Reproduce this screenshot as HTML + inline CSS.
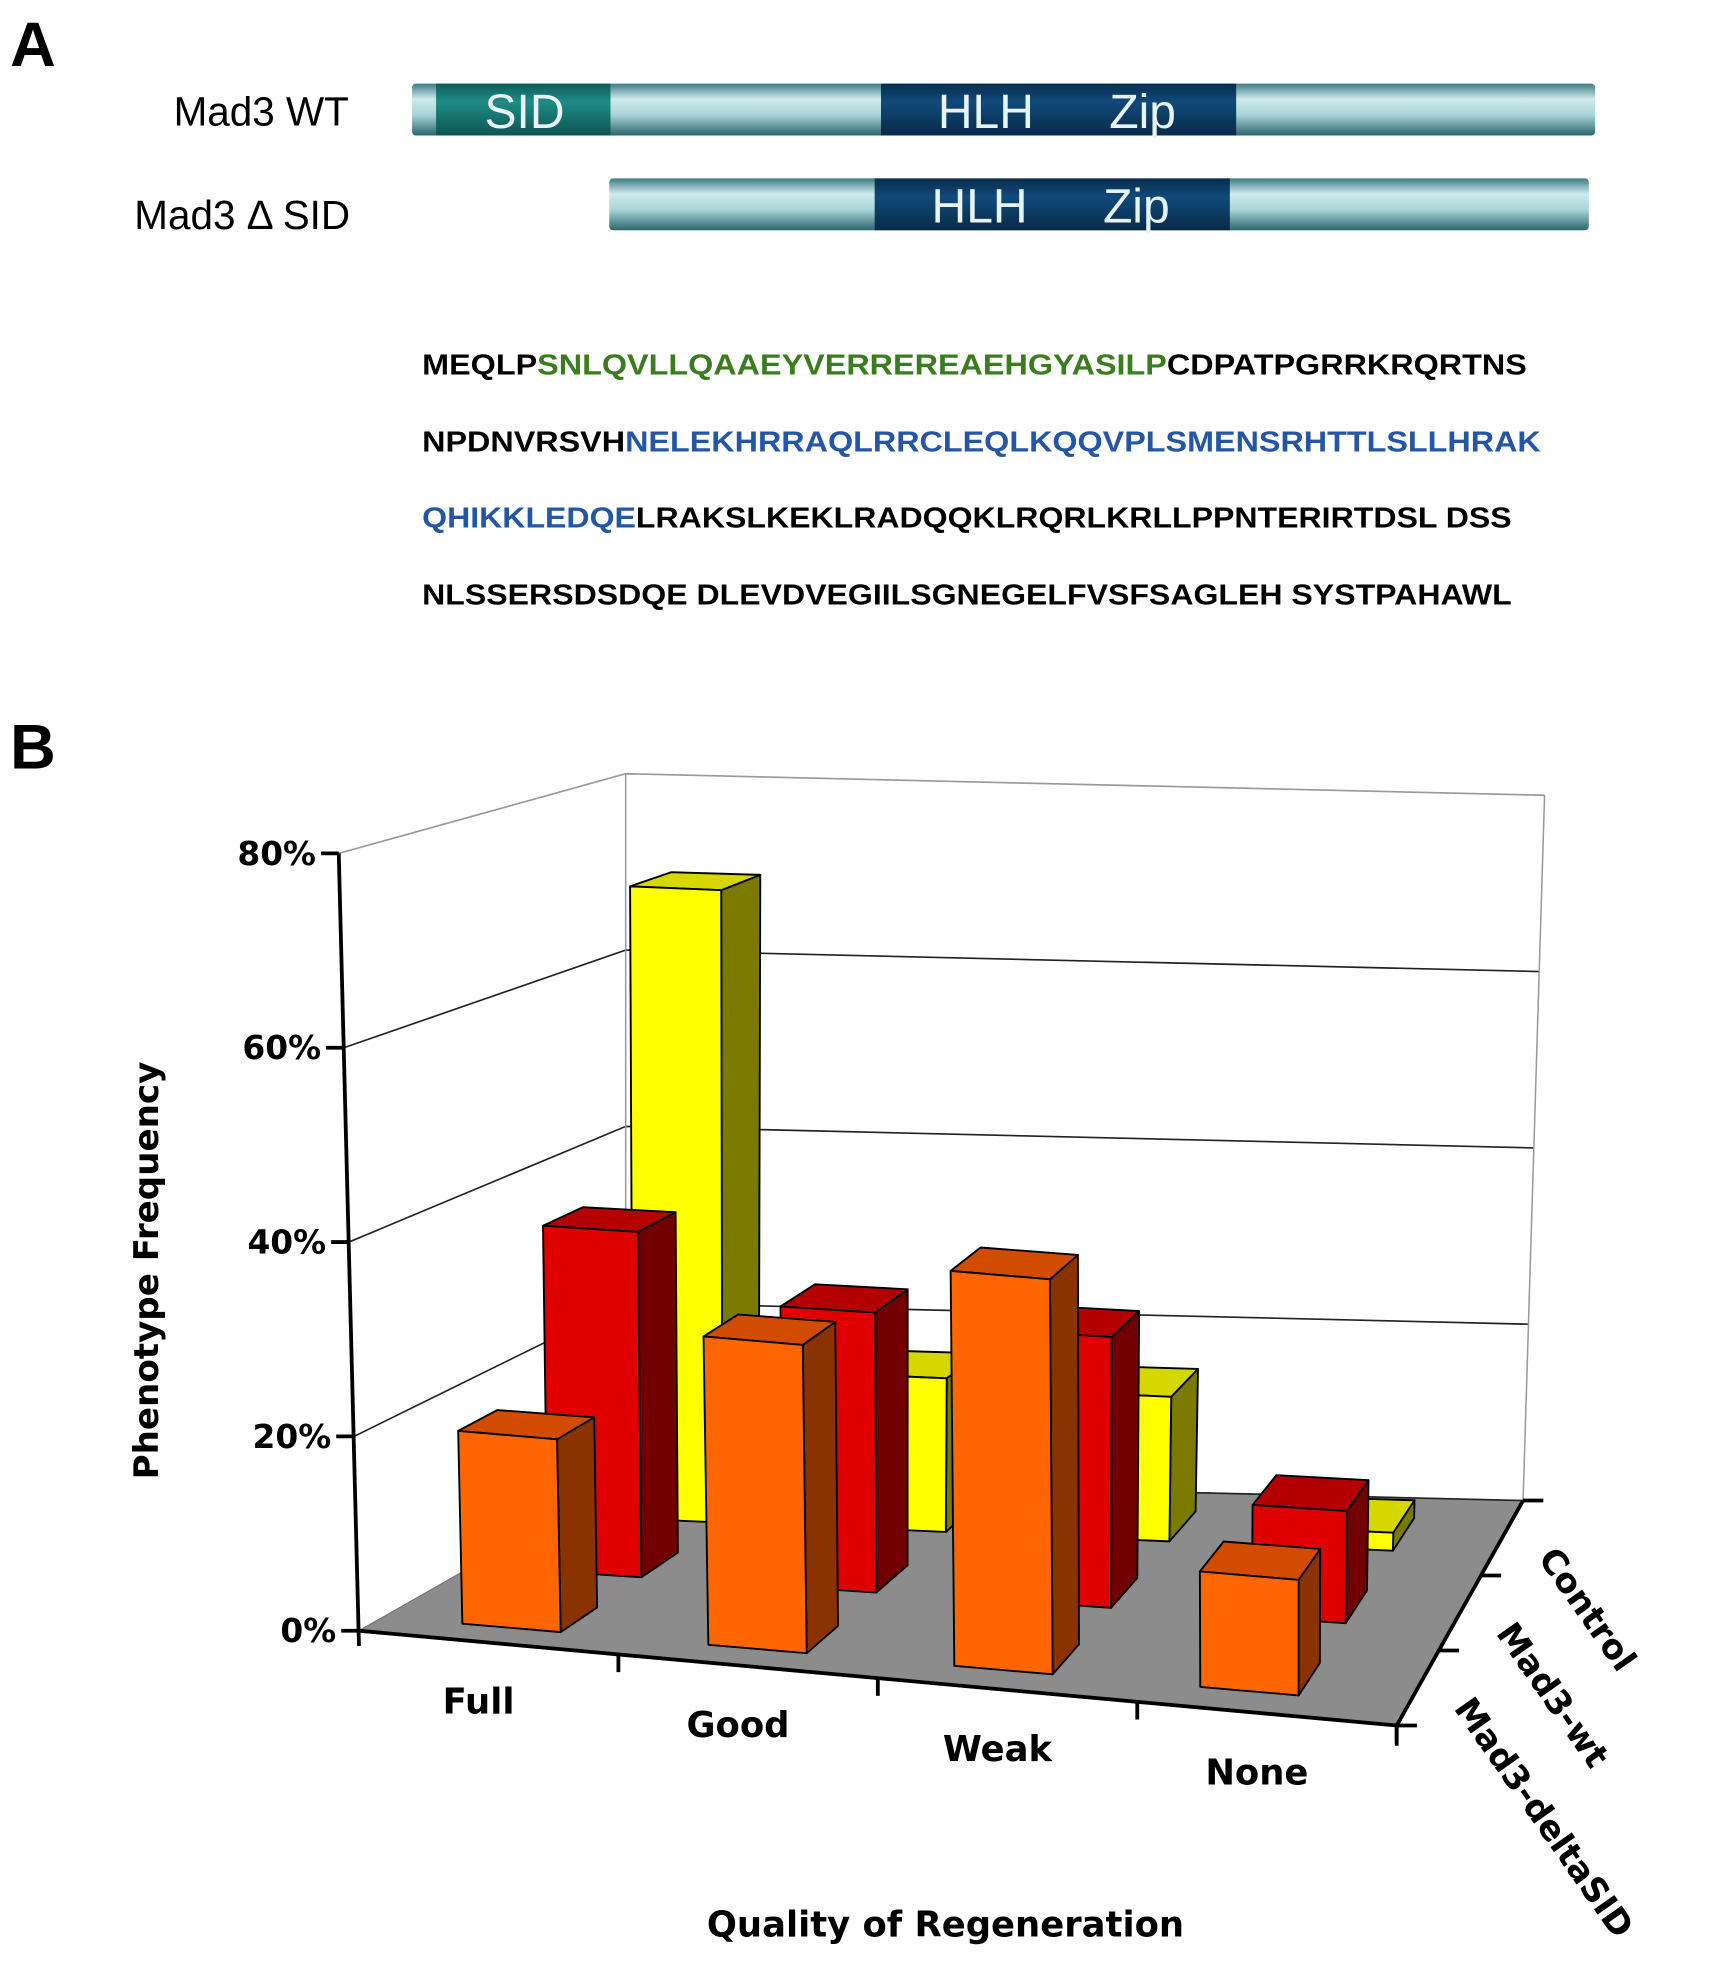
<!DOCTYPE html>
<html><head><meta charset="utf-8">
<style>
html,body{margin:0;padding:0;background:#fff;}
svg{display:block;}
</style></head>
<body>
<svg id="fig" width="1719" height="1976" viewBox="0 0 1360 1563" xmlns="http://www.w3.org/2000/svg">
<defs>
<linearGradient id="cyl" x1="0" y1="0" x2="0" y2="1">
<stop offset="0" stop-color="#3b7c82"/><stop offset="0.3" stop-color="#cfeaec"/><stop offset="0.6" stop-color="#a9d5d8"/><stop offset="1" stop-color="#2b666c"/>
</linearGradient>
<linearGradient id="sid" x1="0" y1="0" x2="0" y2="1">
<stop offset="0" stop-color="#0f5c58"/><stop offset="0.35" stop-color="#1f8c86"/><stop offset="1" stop-color="#0e5552"/>
</linearGradient>
<linearGradient id="hlh" x1="0" y1="0" x2="0" y2="1">
<stop offset="0" stop-color="#082c4c"/><stop offset="0.35" stop-color="#104a7a"/><stop offset="1" stop-color="#082a48"/>
</linearGradient>
</defs>

<text x="8" y="52" font-family="Liberation Sans, sans-serif" font-weight="bold" font-size="50">A</text>
<text x="276" y="99" text-anchor="end" font-family="Liberation Sans, sans-serif" font-size="32">Mad3 WT</text>
<text x="277" y="181" text-anchor="end" font-family="Liberation Sans, sans-serif" font-size="32">Mad3 Δ SID</text>

<g>
<rect x="326" y="66" width="936" height="41" fill="url(#cyl)" rx="3"/>
<rect x="345" y="66" width="138" height="41" fill="url(#sid)"/>
<rect x="697" y="66" width="281" height="41" fill="url(#hlh)"/>
<text x="415" y="101" text-anchor="middle" fill="#e8f4f4" font-family="Liberation Sans, sans-serif" font-size="38">SID</text>
<text x="780" y="101" text-anchor="middle" fill="#e8f4f4" font-family="Liberation Sans, sans-serif" font-size="38">HLH</text>
<text x="904" y="101" text-anchor="middle" fill="#e8f4f4" font-family="Liberation Sans, sans-serif" font-size="38">Zip</text>
</g>
<g>
<rect x="482" y="141" width="775" height="41" fill="url(#cyl)" rx="3"/>
<rect x="692" y="141" width="281" height="41" fill="url(#hlh)"/>
<text x="775" y="176" text-anchor="middle" fill="#e8f4f4" font-family="Liberation Sans, sans-serif" font-size="38">HLH</text>
<text x="899" y="176" text-anchor="middle" fill="#e8f4f4" font-family="Liberation Sans, sans-serif" font-size="38">Zip</text>
</g>

<g font-family="Liberation Sans, sans-serif" font-weight="bold" font-size="23">
<text x="334" y="296" textLength="874" lengthAdjust="spacingAndGlyphs">MEQLP<tspan fill="#3a7d1e">SNLQVLLQAAEYVERREREAEHGYASILP</tspan>CDPATPGRRKRQRTNS</text>
<text x="334" y="357" textLength="885" lengthAdjust="spacingAndGlyphs">NPDNVRSVH<tspan fill="#2456a8">NELEKHRRAQLRRCLEQLKQQVPLSMENSRHTTLSLLHRAK</tspan></text>
<text x="334" y="417" textLength="862" lengthAdjust="spacingAndGlyphs"><tspan fill="#2456a8">QHIKKLEDQE</tspan>LRAKSLKEKLRADQQKLRQRLKRLLPPNTERIRTDSL DSS</text>
<text x="334" y="478" textLength="862" lengthAdjust="spacingAndGlyphs">NLSSERSDSDQE DLEVDVEGIILSGNEGELFVSFSAGLEH SYSTPAHAWL</text>
</g>

<text x="8" y="608" font-family="Liberation Sans, sans-serif" font-weight="bold" font-size="50">B</text>

<g id="chart"></g>
</svg>

<script>
const categories = ["Full", "Good", "Weak", "None"];
const seriesNames = ["Control", "Mad3-wt", "Mad3-deltaSID"];
const controlValues = [70, 17, 16, 2];
const wtValues = [37, 30, 29, 12];
const deltaValues = [20, 32, 41, 12];
const yTicks = [0, 20, 40, 60, 80];
const yTickLabels = ["0%", "20%", "40%", "60%", "80%"];

const NS = "http://www.w3.org/2000/svg";
const chart = document.getElementById("chart");
const F0 = [284, 1290], F1 = [1105, 1365], B0 = [495, 1170], B1 = [1205, 1187];
const YMAX = 80, frontH = 615, backH = 558;
function lerp(a, b, t) { return a + (b - a) * t; }
function P(u, w, v) {
  const fx = lerp(F0[0], F1[0], u), fy = lerp(F0[1], F1[1], u);
  const bx = lerp(B0[0], B1[0], u), by = lerp(B0[1], B1[1], u);
  const x = lerp(fx, bx, w), y = lerp(fy, by, w);
  const h = lerp(frontH, backH, w) * v / YMAX;
  const lean = lerp(-16 + 16 * u, 17 * u, w);
  return [x + lean * v / YMAX, y - h];
}
function pts(arr) { return arr.map(p => p[0].toFixed(1) + "," + p[1].toFixed(1)).join(" "); }
function el(tag, attrs, parent) {
  const e = document.createElementNS(NS, tag);
  for (const k in attrs) e.setAttribute(k, attrs[k]);
  (parent || chart).appendChild(e);
  return e;
}

const floor = el("polygon", { points: pts([P(0,0,0), P(1,0,0), P(1,1,0), P(0,1,0)]), fill: "#8c8c8c", stroke: "#777" });



yTicks.forEach((t, i) => {
  const a = P(0,0,t), b = P(0,1,t), c = P(1,1,t);
  const g = el("polyline", { points: pts(i === 0 ? [b, c] : [a, b, c]), fill: "none", stroke: i === yTicks.length - 1 ? "#999" : "#222", "stroke-width": 1.3 });
  
  
});
[[0,1],[1,1]].forEach((q) => {
  const l = el("line", { x1: P(q[0],q[1],0)[0], y1: P(q[0],q[1],0)[1], x2: P(q[0],q[1],YMAX)[0], y2: P(q[0],q[1],YMAX)[1], stroke: "#999", "stroke-width": 1.2 });
  
  
});

const ya = el("line", { x1: P(0,0,0)[0], y1: P(0,0,0)[1] + 12, x2: P(0,0,YMAX)[0], y2: P(0,0,YMAX)[1], stroke: "#000", "stroke-width": 3 });


yTicks.forEach((t, i) => {
  const p = P(0,0,t);
  const tk = el("line", { x1: p[0] - 14, y1: p[1], x2: p[0], y2: p[1], stroke: "#000", "stroke-width": 3 });
  
  
  const tx = el("text", { x: p[0] - 18, y: p[1] + 9, "text-anchor": "end", "font-family": "DejaVu Sans, sans-serif", "font-weight": "bold", "font-size": 26 });
  tx.textContent = yTickLabels[i];
  
  
});

const xa = el("line", { x1: P(0,0,0)[0], y1: P(0,0,0)[1], x2: P(1,0,0)[0], y2: P(1,0,0)[1], stroke: "#000", "stroke-width": 3 });


for (let i = 1; i <= categories.length; i++) {
  const p = P(i / categories.length, 0, 0);
  const tk = el("line", { x1: p[0], y1: p[1], x2: p[0], y2: p[1] + 14, stroke: "#000", "stroke-width": 3 });
  
  
}
categories.forEach((c, i) => {
  const p = P((i + 0.5) / categories.length, 0, 0);
  const tx = el("text", { x: p[0] - 8, y: p[1] + 56, "text-anchor": "middle", "font-family": "DejaVu Sans, sans-serif", "font-weight": "bold", "font-size": 28 });
  tx.textContent = c;
  
  
});

const da = el("line", { x1: P(1,0,0)[0], y1: P(1,0,0)[1], x2: P(1,1,0)[0], y2: P(1,1,0)[1], stroke: "#000", "stroke-width": 3 });


for (let j = 0; j <= seriesNames.length; j++) {
  const p = P(1, j / seriesNames.length, 0);
  const tk = el("line", { x1: p[0], y1: p[1], x2: p[0] + 16, y2: p[1], stroke: "#000", "stroke-width": 3 });
  
  
}
const tk0 = el("line", { x1: P(1,0,0)[0], y1: P(1,0,0)[1], x2: P(1,0,0)[0], y2: P(1,0,0)[1] + 16, stroke: "#000", "stroke-width": 3 });


seriesNames.forEach((s, j) => {
  const w = 1 - (j + 0.5) / seriesNames.length;
  const p = P(1, w, 0);
  const tx = el("text", { x: p[0] + 28, y: p[1] + 16, "font-family": "DejaVu Sans, sans-serif", "font-weight": "bold", "font-size": 27, transform: "rotate(55 " + (p[0] + 28) + " " + (p[1] + 16) + ")" });
  tx.textContent = s;
  
  
});

const yt = el("text", { x: 0, y: 0, "text-anchor": "middle", "font-family": "DejaVu Sans, sans-serif", "font-weight": "bold", "font-size": 27, transform: "translate(125 1005) rotate(-90)" });
yt.textContent = "Phenotype Frequency";


const xt = el("text", { x: 748, y: 1532, "text-anchor": "middle", "font-family": "DejaVu Sans, sans-serif", "font-weight": "bold", "font-size": 28 });
xt.textContent = "Quality of Regeneration";



const allSeries = [controlValues, wtValues, deltaValues];
const colors = [
  ["#ffff00", "#d6d600", "#7a7a00"],
  ["#e00000", "#b40000", "#730000"],
  ["#ff6600", "#d24c00", "#8a3300"]
];
const du = 0.048, dw = 0.075;
allSeries.forEach((vals, j) => {
  const wc = 1 - (j + 0.5) / seriesNames.length;
  vals.forEach((v, i) => {
    const uc = (i + 0.5) / categories.length - 0.01 * i;
    const u0 = uc - du, u1 = uc + du, w0 = wc - dw, w1 = wc + dw;
    const g = el("g", {});
    
    
    const c = colors[j];
    el("polygon", { points: pts([P(u1,w0,0), P(u1,w1,0), P(u1,w1,v), P(u1,w0,v)]), fill: c[2], stroke: "#000", "stroke-width": 1.5, "stroke-linejoin": "round" }, g);
    el("polygon", { points: pts([P(u0,w0,v), P(u1,w0,v), P(u1,w1,v), P(u0,w1,v)]), fill: c[1], stroke: "#000", "stroke-width": 1.5, "stroke-linejoin": "round" }, g);
    el("polygon", { points: pts([P(u0,w0,0), P(u1,w0,0), P(u1,w0,v), P(u0,w0,v)]), fill: c[0], stroke: "#000", "stroke-width": 1.5, "stroke-linejoin": "round" }, g);
  });
});
</script>
</body></html>
